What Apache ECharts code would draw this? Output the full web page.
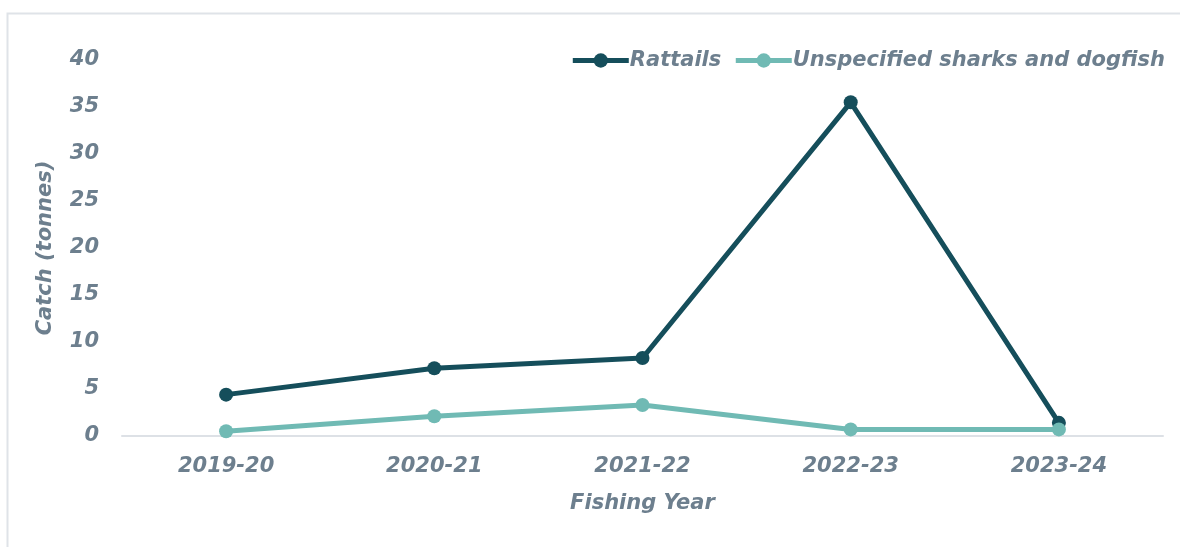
<!DOCTYPE html>
<html>
<head>
<meta charset="utf-8">
<style>
  html, body { margin: 0; padding: 0; background: #fff; }
  #chart { width: 1180px; height: 547px; }
</style>
<script src="https://cdn.jsdelivr.net/npm/echarts@6/dist/echarts.min.js"></script>
</head>
<body>
<div id="chart"></div>
<script>
// Fishing years and catch (tonnes) per species group
const fishingYears = ['2019-20', '2020-21', '2021-22', '2022-23', '2023-24'];
const rattails = [4.4, 7.2, 8.3, 35.5, 1.4];
const sharksDogfish = [0.5, 2.1, 3.3, 0.7, 0.7];
const yTicks = { min: 0, max: 40, step: 5 };

const textColor = '#6d7f8e';
const fontFamily = '"DejaVu Sans", sans-serif';
const textStyle = { color: textColor, fontFamily, fontStyle: 'italic', fontWeight: 'bold', fontSize: 21 };

const chart = echarts.init(document.getElementById('chart'), null, { renderer: 'canvas' });

chart.setOption({
  animation: false,
  graphic: [{
    type: 'rect',
    shape: { x: 7.5, y: 13.5, width: 1400, height: 800 },
    style: { fill: 'none', stroke: '#dfe3e8', lineWidth: 2 },
    silent: true
  }],
  legend: {
    top: 45,
    right: 10,
    itemGap: 12,
    itemWidth: 56,
    itemHeight: 18,
    lineStyle: { width: 5 },
    textStyle: Object.assign({}, textStyle, { padding: [0, 0, 0, -4] }),
    data: ['Rattails', 'Unspecified sharks and dogfish']
  },
  grid: { left: 122, right: 17, top: 60, bottom: 111 },
  xAxis: {
    type: 'category',
    data: fishingYears,
    boundaryGap: true,
    axisLine: { lineStyle: { color: '#dde1e6', width: 2 } },
    axisTick: { show: false },
    axisLabel: Object.assign({}, textStyle, { margin: 20 }),
    name: 'Fishing Year',
    nameLocation: 'middle',
    nameGap: 57,
    nameTextStyle: textStyle
  },
  yAxis: {
    type: 'value',
    min: yTicks.min,
    max: yTicks.max,
    interval: yTicks.step,
    axisLine: { show: false },
    axisTick: { show: false },
    splitLine: { show: false },
    axisLabel: Object.assign({}, textStyle, { margin: 23 }),
    name: 'Catch (tonnes)',
    nameLocation: 'middle',
    nameGap: 66,
    nameTextStyle: textStyle
  },
  series: [
    {
      name: 'Rattails',
      type: 'line',
      data: rattails,
      symbol: 'circle',
      symbolSize: 14,
      lineStyle: { color: '#154e5b', width: 5 },
      itemStyle: { color: '#154e5b' },
      z: 2
    },
    {
      name: 'Unspecified sharks and dogfish',
      type: 'line',
      data: sharksDogfish,
      symbol: 'circle',
      symbolSize: 14,
      lineStyle: { color: '#70bab4', width: 5 },
      itemStyle: { color: '#70bab4' },
      z: 3
    }
  ]
});
</script>
</body>
</html>
